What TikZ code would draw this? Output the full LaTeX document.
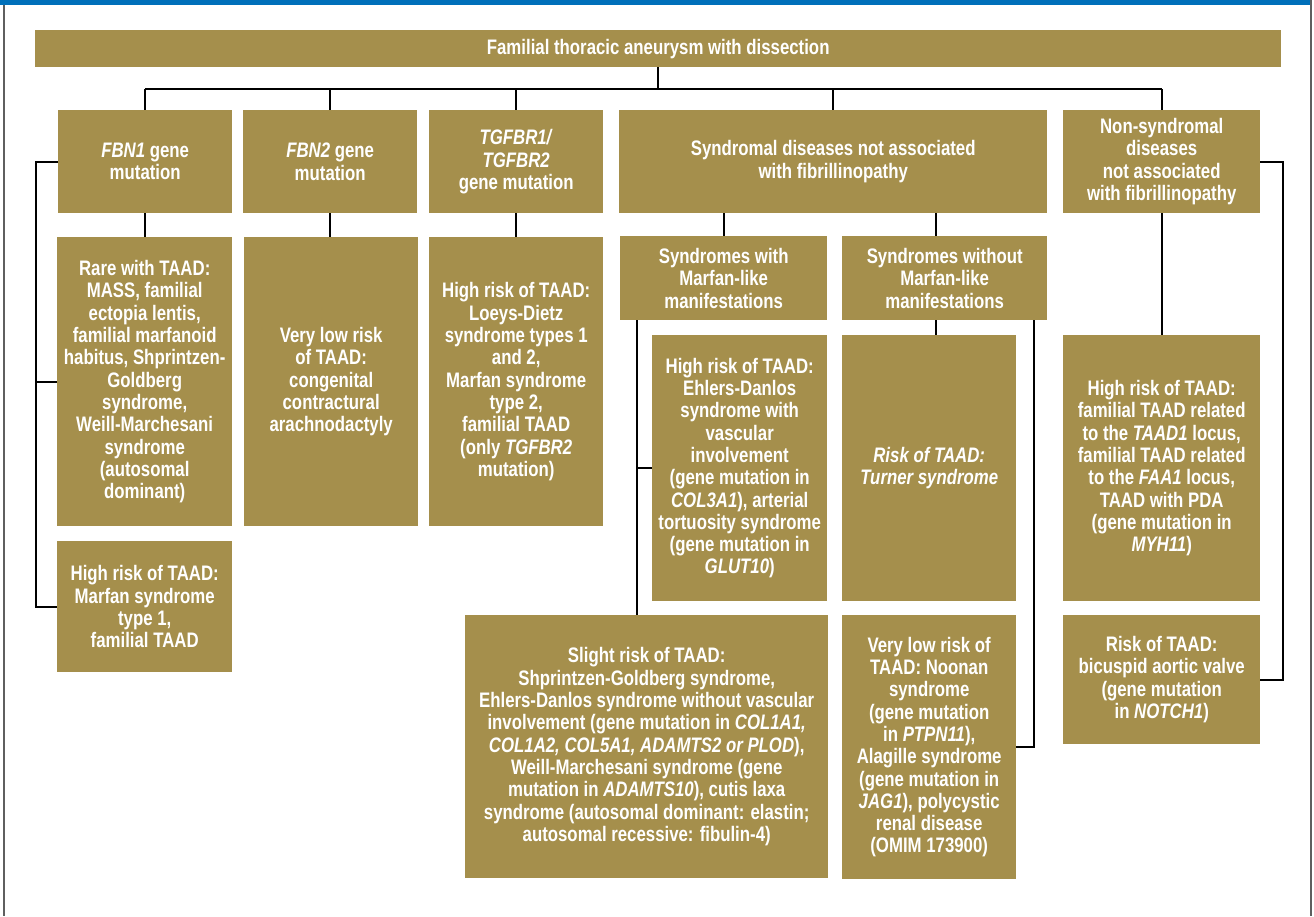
\documentclass[tikz,border=0pt]{standalone}
\usepackage{fontspec}
\usepackage{xcolor}
\newfontfamily\boxfont{Liberation Sans}[FakeStretch=0.8]
\definecolor{boxgold}{RGB}{165,143,76}
\definecolor{topblue}{RGB}{0,112,186}
\definecolor{framegray}{RGB}{95,95,95}
\tikzset{
    gold-box/.style = {fill=boxgold, text=white, rectangle, anchor=north west, inner sep=0pt, align=center,
        font=\boxfont\bfseries\fontsize{21}{22.3}\selectfont},
    tree-link/.style = {draw=black, line width=2pt},
}

\begin{document}
\begin{tikzpicture}[x=1pt, y=-1pt]
\useasboundingbox[fill=white] (0,0) rectangle (1314,916);
\fill[topblue] (0,0) rectangle (1311,5);
\draw[framegray, line width=1.5pt] (4,5) -- (4,916) (1311,0) -- (1311,916);

\node[gold-box, minimum width=1246pt, minimum height=37pt] (title) at (35,30) {Familial thoracic aneurysm with dissection};

\node[gold-box, minimum width=174pt, minimum height=103pt] (fbnone) at (58,110) {\textit{FBN1} gene\\mutation};
\node[gold-box, minimum width=174pt, minimum height=103pt] (fbntwo) at (243,110) {\textit{FBN2} gene\\mutation};
\node[gold-box, minimum width=174pt, minimum height=103pt] (tgfbr) at (429,110) {\textit{TGFBR1/}\\\textit{TGFBR2}\\gene mutation};
\node[gold-box, minimum width=428pt, minimum height=103pt] (synd) at (619,110) {Syndromal diseases not associated\\with fibrillinopathy};
\node[gold-box, minimum width=197pt, minimum height=103pt] (nonsynd) at (1063,110) {Non-syndromal\\diseases\\not associated\\with fibrillinopathy};

\node[gold-box, minimum width=175pt, minimum height=289pt] (rare) at (57,237) {Rare with TAAD:\\MASS, familial\\ectopia lentis,\\familial marfanoid\\habitus, Shprintzen-\\Goldberg\\syndrome,\\Weill-Marchesani\\syndrome\\(autosomal\\dominant)};
\node[gold-box, minimum width=174pt, minimum height=289pt] (verylow) at (244,237) {Very low risk\\of TAAD:\\congenital\\contractural\\arachnodactyly};
\node[gold-box, minimum width=174pt, minimum height=289pt] (loeys) at (429,237) {High risk of TAAD:\\Loeys-Dietz\\syndrome types 1\\and 2,\\Marfan syndrome\\type 2,\\familial TAAD\\(only \textit{TGFBR2}\\mutation)};
\node[gold-box, minimum width=175pt, minimum height=131pt] (marfan) at (57,541) {High risk of TAAD:\\Marfan syndrome\\type 1,\\familial TAAD};

\node[gold-box, minimum width=207pt, minimum height=84pt] (synwith) at (620,236) {Syndromes with\\Marfan-like\\manifestations};
\node[gold-box, minimum width=205pt, minimum height=84pt] (synwithout) at (842,236) {Syndromes without\\Marfan-like\\manifestations};

\node[gold-box, minimum width=175pt, minimum height=266pt] (eds) at (652,335) {High risk of TAAD:\\Ehlers-Danlos\\syndrome with\\vascular\\involvement\\(gene mutation in\\\textit{COL3A1}), arterial\\tortuosity syndrome\\(gene mutation in\\\textit{GLUT10})};
\node[gold-box, minimum width=174pt, minimum height=266pt] (turner) at (842,335) {\textit{Risk of TAAD:}\\\textit{Turner syndrome}};
\node[gold-box, minimum width=197pt, minimum height=266pt] (taadone) at (1063,335) {High risk of TAAD:\\familial TAAD related\\to the \textit{TAAD1} locus,\\familial TAAD related\\to the \textit{FAA1} locus,\\TAAD with PDA\\(gene mutation in\\\textit{MYH11})};

\node[gold-box, minimum width=363pt, minimum height=263pt] (slight) at (465,615) {Slight risk of TAAD:\\Shprintzen-Goldberg syndrome,\\Ehlers-Danlos syndrome without vascular\\involvement (gene mutation in \textit{COL1A1,}\\\textit{COL1A2, COL5A1, ADAMTS2 or PLOD}),\\Weill-Marchesani syndrome (gene\\mutation in \textit{ADAMTS10}), cutis laxa\\syndrome (autosomal dominant: elastin;\\autosomal recessive: fibulin-4)};
\node[gold-box, minimum width=174pt, minimum height=264pt] (noonan) at (842,615) {Very low risk of\\TAAD: Noonan\\syndrome\\(gene mutation\\in \textit{PTPN11}),\\Alagille syndrome\\(gene mutation in\\\textit{JAG1}), polycystic\\renal disease\\(OMIM 173900)};
\node[gold-box, minimum width=197pt, minimum height=129pt] (bicusp) at (1063,615) {Risk of TAAD:\\bicuspid aortic valve\\(gene mutation\\in \textit{NOTCH1})};

\coordinate (bus) at (0,89);
\coordinate (wx) at (936,0);
\coordinate (sx) at (637,0);
\coordinate (nx) at (1034,0);
\draw[tree-link] (title.south) -- (title.south |- bus);
\draw[tree-link] (fbnone.north |- bus) -- (nonsynd.north |- bus);
\foreach \n in {fbnone,fbntwo,tgfbr,synd,nonsynd}
    \draw[tree-link] (\n.north |- bus) -- (\n.north);
\draw[tree-link] (fbnone.south) -- (fbnone.south |- rare.north);
\draw[tree-link] (fbntwo.south) -- (fbntwo.south |- verylow.north);
\draw[tree-link] (tgfbr.south) -- (tgfbr.south |- loeys.north);
\draw[tree-link] (fbnone.west) -- ++(-22,0) |- (marfan.west);
\draw[tree-link] (rare.west) -- ++(-22,0);
\draw[tree-link] (synd.south -| synwith.north) -- (synwith.north);
\draw[tree-link] (synd.south -| wx) -- (synwithout.north -| wx);
\draw[tree-link] (synwithout.south -| wx) -- (turner.north -| wx);
\draw[tree-link] (synwith.south -| sx) -- (slight.north -| sx);
\draw[tree-link] (eds.west) -- (eds.west -| sx);
\draw[tree-link] (synwithout.south -| nx) |- (noonan.east);
\draw[tree-link] (nonsynd.south) -- (taadone.north);
\draw[tree-link] (nonsynd.east) -- ++(23,0) |- (bicusp.east);
\end{tikzpicture}
\end{document}
